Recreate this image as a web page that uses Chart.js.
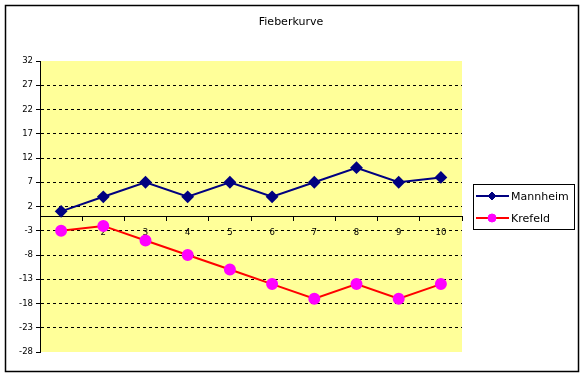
<!DOCTYPE html>
<html><head><meta charset="utf-8">
<script src="https://cdn.jsdelivr.net/npm/chart.js@4.4.1/dist/chart.umd.min.js"></script>
<style>html,body{margin:0;padding:0;background:#fff}#wrap{width:584px;height:377px;position:relative}</style>
</head><body><div id="wrap"><canvas id="c" width="584" height="377"></canvas></div>
<script>
const categories = ['1','2','3','4','5','6','7','8','9','10'];
const mannheim = [1, 4, 7, 4, 7, 4, 7, 10, 7, 8];
const krefeld = [-3, -2, -5, -8, -11, -14, -17, -14, -17, -14];
const yTicks = [-28, -23, -18, -13, -8, -3, 2, 7, 12, 17, 22, 27, 32];
const seriesNames = ['Mannheim', 'Krefeld'];
const chartTitle = 'Fieberkurve';

const FONT = '"DejaVu Sans", sans-serif';

const decor = {
  id: 'decor',
  beforeDraw(chart) {
    const ctx = chart.ctx, a = chart.chartArea;
    ctx.save();
    ctx.fillStyle = '#fff';
    ctx.fillRect(0, 0, chart.width, chart.height);
    ctx.fillStyle = '#FFFF99';
    ctx.fillRect(a.left, a.top, a.right - a.left, a.bottom - a.top);
    ctx.strokeStyle = '#000';
    ctx.lineWidth = 1.5;
    ctx.strokeRect(5.5, 5.5, 573, 366);
    ctx.restore();
  },
  afterDraw(chart) {
    const ctx = chart.ctx;
    ctx.save();
    // title
    ctx.fillStyle = '#000';
    ctx.font = '11px ' + FONT;
    ctx.textAlign = 'center';
    ctx.textBaseline = 'middle';
    ctx.fillText(chartTitle, 291, 22);
    // legend
    ctx.strokeStyle = '#000';
    ctx.lineWidth = 1;
    ctx.strokeRect(473.5, 184.5, 101, 45);
    const ys = [196, 218];
    chart.data.datasets.forEach((ds, i) => {
      const y = ys[i];
      ctx.strokeStyle = ds.borderColor;
      ctx.lineWidth = 2;
      ctx.beginPath(); ctx.moveTo(476, y); ctx.lineTo(509, y); ctx.stroke();
      ctx.fillStyle = ds.pointBackgroundColor;
      ctx.strokeStyle = ds.pointBorderColor;
      ctx.lineWidth = 1;
      ctx.beginPath();
      if (ds.pointStyle === 'rectRot') {
        const r = 4;
        ctx.moveTo(492, y - r); ctx.lineTo(492 + r, y); ctx.lineTo(492, y + r); ctx.lineTo(492 - r, y); ctx.closePath();
      } else {
        ctx.arc(492, y, 4, 0, Math.PI * 2);
      }
      ctx.fill(); ctx.stroke();
      ctx.fillStyle = '#000';
      ctx.font = '11px ' + FONT;
      ctx.textAlign = 'left';
      ctx.textBaseline = 'middle';
      ctx.fillText(ds.label, 511, y + 1);
    });
    ctx.restore();
  }
};

new Chart(document.getElementById('c'), {
  type: 'line',
  data: {
    labels: categories,
    datasets: [
      { label: seriesNames[0], data: mannheim, borderColor: '#000080', backgroundColor: '#000080',
        pointBackgroundColor: '#000080', pointBorderColor: '#000080', borderWidth: 2,
        pointStyle: 'rectRot', pointRadius: 5, tension: 0, clip: false },
      { label: seriesNames[1], data: krefeld, borderColor: '#FF0000', backgroundColor: '#FF00FF',
        pointBackgroundColor: '#FF00FF', pointBorderColor: '#FF00FF', borderWidth: 2,
        pointStyle: 'circle', pointRadius: 5, tension: 0, clip: false }
    ]
  },
  options: {
    responsive: false,
    animation: false,
    devicePixelRatio: 1,
    layout: { padding: { left: 0, top: 61, right: 122, bottom: 25 } },
    plugins: { legend: { display: false }, title: { display: false }, tooltip: { enabled: false } },
    scales: {
      x: {
        type: 'category',
        position: { y: 0 },
        offset: true,
        afterFit(s) { s.height = 0; },
        grid: { display: true, drawOnChartArea: false, drawTicks: true, tickLength: 4,
                color: '#000', tickColor: '#000', offset: true },
        border: { display: true, color: '#000', width: 1 },
        ticks: { font: { family: 'DejaVu Sans', size: 8.5 }, color: '#000', padding: 7, maxRotation: 0 }
      },
      y: {
        type: 'linear',
        min: -28, max: 32,
        afterFit(s) { s.width = 40; },
        afterBuildTicks(s) { s.ticks = yTicks.map(v => ({ value: v })); },
        grid: {
          color: (c) => (c.tick && (c.tick.value === 32 || c.tick.value === -28)) ? 'rgba(0,0,0,0)' : '#000',
          tickColor: '#000', tickLength: 4, drawTicks: true, borderDash: [3, 3], tickBorderDash: [0, 0]
        },
        border: { display: true, color: '#000', width: 1, dash: [3, 3] },
        ticks: { font: { family: 'DejaVu Sans', size: 8.5 }, color: '#000', padding: 3 }
      }
    }
  },
  plugins: [decor]
});
</script></body></html>
